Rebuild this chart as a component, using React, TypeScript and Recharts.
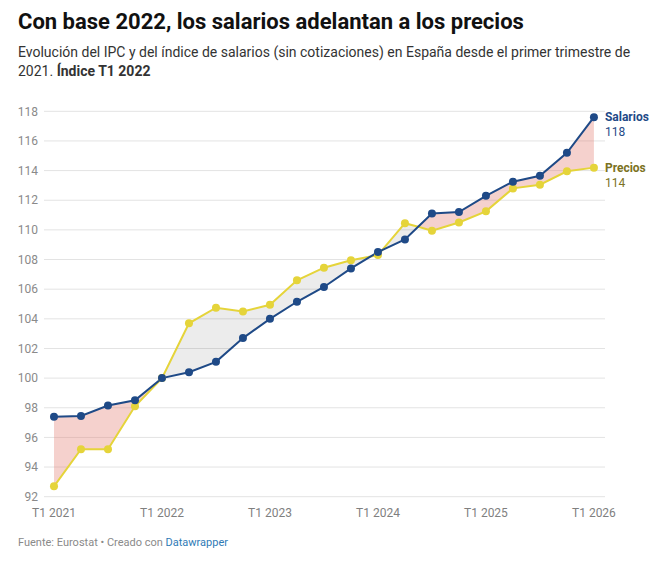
import React from 'react';
import { ComposedChart, Line, Area, XAxis, YAxis, CartesianGrid } from 'recharts';

const quarters = [
  'T1 2021', 'T2 2021', 'T3 2021', 'T4 2021',
  'T1 2022', 'T2 2022', 'T3 2022', 'T4 2022',
  'T1 2023', 'T2 2023', 'T3 2023', 'T4 2023',
  'T1 2024', 'T2 2024', 'T3 2024', 'T4 2024',
  'T1 2025', 'T2 2025', 'T3 2025', 'T4 2025',
  'T1 2026',
];

const salarios = [
  97.4, 97.45, 98.15, 98.5,
  100, 100.4, 101.1, 102.7,
  104.0, 105.15, 106.15, 107.4,
  108.5, 109.35, 111.1, 111.2,
  112.3, 113.25, 113.65, 115.2,
  117.6,
];

const precios = [
  92.7, 95.2, 95.2, 98.1,
  100, 103.7, 104.75, 104.5,
  104.95, 106.6, 107.45, 107.95,
  108.3, 110.45, 109.95, 110.5,
  111.25, 112.8, 113.05, 113.95,
  114.2,
];

const yTicks = [92, 94, 96, 98, 100, 102, 104, 106, 108, 110, 112, 114, 116, 118];
const xTicks = [0, 4, 8, 12, 16, 20];

const BLUE = '#1f4a87';
const YELLOW = '#e5d43a';
const OLIVE = '#7b7222';

type Row = { i: number; s: number; p: number; real: boolean };

// build rows including crossing points so the fill between lines switches colour exactly
const rows: Row[] = [];
for (let k = 0; k < quarters.length; k++) {
  rows.push({ i: k, s: salarios[k], p: precios[k], real: true });
  if (k < quarters.length - 1) {
    const d0 = salarios[k] - precios[k];
    const d1 = salarios[k + 1] - precios[k + 1];
    if ((d0 > 0 && d1 < 0) || (d0 < 0 && d1 > 0)) {
      const t = d0 / (d0 - d1);
      const v = salarios[k] + t * (salarios[k + 1] - salarios[k]);
      rows.push({ i: k + t, s: v, p: v, real: false });
    }
  }
}

const lastIndex = rows.length - 1;

const makeDot = (color: string) => (props: any) => {
  const { cx, cy, payload, index } = props;
  if (!payload || !payload.real) return <g key={`d${index}`} />;
  return <circle key={`d${index}`} cx={cx} cy={cy} r={4} fill={color} stroke="none" />;
};

const makeLabel = (name: string, color: string, nameColor: string, values: number[]) => (props: any) => {
  const { x, y, index } = props;
  if (index !== lastIndex) return null;
  const v = Math.round(values[values.length - 1]);
  return (
    <g key={`l${name}`}>
      <text x={x + 11} y={y + 4} fill={nameColor} fontSize={12} fontWeight={700} fontFamily="Roboto">
        {name}
      </text>
      <text x={x + 11} y={y + 19} fill={color} fontSize={12} fontFamily="Roboto">
        {v}
      </text>
    </g>
  );
};

export default function App() {
  return (
    <div style={{ position: 'absolute', left: 0, top: 0, width: 667, height: 564, background: '#fff', fontFamily: 'Roboto' }}>
      <div style={{ position: 'absolute', left: 18, top: 8, fontSize: 22, lineHeight: '28px', fontWeight: 700, color: '#111' }}>
        Con base 2022, los salarios adelantan a los precios
      </div>
      <div style={{ position: 'absolute', left: 18, top: 43, width: 640, fontSize: 14, lineHeight: '19px', color: '#333', whiteSpace: 'nowrap' }}>
        Evolución del IPC y del índice de salarios (sin cotizaciones) en España desde el primer trimestre de
      </div>
      <div style={{ position: 'absolute', left: 18, top: 62, fontSize: 14, lineHeight: '19px', color: '#333', whiteSpace: 'nowrap' }}>
        <span>2021. </span>
        <span style={{ fontWeight: 700 }}>Índice T1 2022</span>
      </div>
      <div style={{ position: 'absolute', left: 0, top: 0 }}>
        <ComposedChart
          width={667}
          height={564}
          data={rows}
          margin={{ top: 111.3, right: 62, bottom: 37.3, left: 0 }}
        >
          <CartesianGrid horizontal vertical={false} stroke="#e3e3e3" strokeWidth={1} />
          <XAxis
            type="number"
            dataKey="i"
            domain={[-0.37, 20.41]}
            allowDataOverflow
            ticks={xTicks}
            tickFormatter={(v: number) => quarters[v]}
            axisLine={false}
            tickLine={false}
            tickSize={0}
            tickMargin={12}
            height={30}
            tick={{ fill: '#7f7f7f', fontSize: 12, fontFamily: 'Roboto' }}
            interval={0}
          />
          <YAxis
            type="number"
            domain={[92, 118]}
            ticks={yTicks}
            allowDataOverflow
            axisLine={false}
            tickLine={false}
            tickSize={0}
            tickMargin={6}
            width={44}
            tick={{ fill: '#8a8a8a', fontSize: 12, fontFamily: 'Roboto' }}
            interval={0}
          />
          <Area
            type="linear"
            dataKey={(d: Row) => [d.p, Math.max(d.s, d.p)]}
            stroke="none"
            fill="#e3776b"
            fillOpacity={0.34}
            isAnimationActive={false}
            dot={false}
            activeDot={false}
          />
          <Area
            type="linear"
            dataKey={(d: Row) => [d.s, Math.max(d.s, d.p)]}
            stroke="none"
            fill="#000000"
            fillOpacity={0.075}
            isAnimationActive={false}
            dot={false}
            activeDot={false}
          />
          <Line
            type="linear"
            dataKey="p"
            stroke={YELLOW}
            strokeWidth={2}
            dot={makeDot(YELLOW)}
            activeDot={false}
            isAnimationActive={false}
            label={makeLabel('Precios', OLIVE, OLIVE, precios)}
          />
          <Line
            type="linear"
            dataKey="s"
            stroke={BLUE}
            strokeWidth={2}
            dot={makeDot(BLUE)}
            activeDot={false}
            isAnimationActive={false}
            label={makeLabel('Salarios', BLUE, BLUE, salarios)}
          />
        </ComposedChart>
      </div>
      <div style={{ position: 'absolute', left: 18, top: 536, fontSize: 11, lineHeight: '14px', color: '#8a8a8a' }}>
        Fuente: Eurostat • Creado con <span style={{ color: '#2f7bb6' }}>Datawrapper</span>
      </div>
    </div>
  );
}
